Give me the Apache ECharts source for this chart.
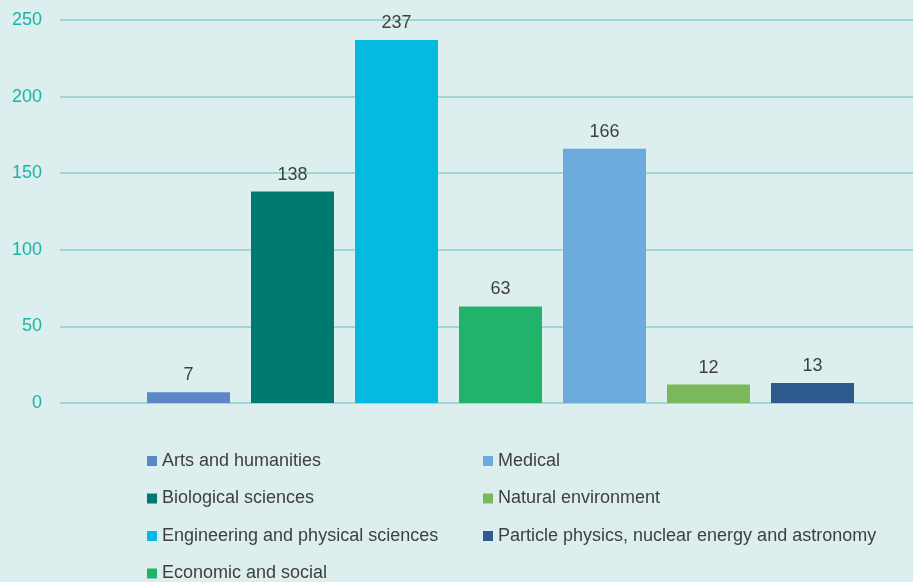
<!DOCTYPE html>
<html>
<head>
<meta charset="utf-8">
<style>
  html, body { margin: 0; padding: 0; background: #ddeeee; }
  #chart { width: 913px; height: 582px; }
</style>
<script src="https://cdn.jsdelivr.net/npm/echarts@6/dist/echarts.min.js"></script>
</head>
<body>
<div id="chart"></div>
<script>
// Research council areas and their counts
const categories = [
  'Arts and humanities',
  'Biological sciences',
  'Engineering and physical sciences',
  'Economic and social',
  'Medical',
  'Natural environment',
  'Particle physics, nuclear energy and astronomy'
];
const values = [7, 138, 237, 63, 166, 12, 13];
const colors = ['#5b87c6', '#007a70', '#05bae0', '#22b36a', '#6ca9dc', '#7ab85a', '#2e5a8e'];
const yTicks = [0, 50, 100, 150, 200, 250];

// Legend columns: first column runs past the bottom edge, so its last row is its own block
const legendColA = categories.slice(0, 3);
const legendColA2 = categories.slice(3, 4);
const legendColB = categories.slice(4);

const font = '"Liberation Sans", Arial, sans-serif';
const yMax = yTicks[yTicks.length - 1];
const yStep = yTicks[1] - yTicks[0];

// One series per area, each placing its bar in its own slot
const series = categories.map((name, i) => ({
  name: name,
  type: 'bar',
  xAxisIndex: 1,
  yAxisIndex: 1,
  stack: 'all',
  barWidth: 83,
  itemStyle: { color: colors[i] },
  label: {
    show: true,
    position: 'top',
    distance: 8,
    color: '#404040',
    fontSize: 18,
    fontFamily: font
  },
  data: categories.map((_, j) => (j === i ? values[i] : null))
}));

const rowStep = 37.5;
const legendCommon = {
  orient: 'vertical',
  top: 446,
  itemWidth: 10,
  itemHeight: 10,
  itemGap: rowStep - 20,
  icon: 'rect',
  textStyle: { color: '#404040', fontSize: 18, fontFamily: font, lineHeight: 20 }
};

const chart = echarts.init(document.getElementById('chart'));
chart.setOption({
  backgroundColor: '#ddeeee',
  animation: false,
  grid: [
    { left: 60, right: 0, top: 20, bottom: 179 },
    { left: 136.5, width: 728, top: 20, bottom: 179 }
  ],
  xAxis: [
    { gridIndex: 0, type: 'category', data: [''], show: false },
    { gridIndex: 1, type: 'category', data: categories, show: false }
  ],
  yAxis: [
    {
      gridIndex: 0, type: 'value', min: 0, max: yMax, interval: yStep,
      axisLine: { show: false }, axisTick: { show: false },
      axisLabel: { color: '#17b5a6', fontSize: 18, fontFamily: font, margin: 18 },
      splitLine: { lineStyle: { color: '#9fd8d2', width: 2 } }
    },
    {
      gridIndex: 1, type: 'value', min: 0, max: yMax, interval: yStep, show: false,
      splitLine: { show: false }
    }
  ],
  legend: [
    Object.assign({}, legendCommon, { left: 142, data: legendColA }),
    Object.assign({}, legendCommon, { left: 142, top: 446 + 3 * rowStep, data: legendColA2 }),
    Object.assign({}, legendCommon, { left: 478, data: legendColB })
  ],
  series: series
});
</script>
</body>
</html>
